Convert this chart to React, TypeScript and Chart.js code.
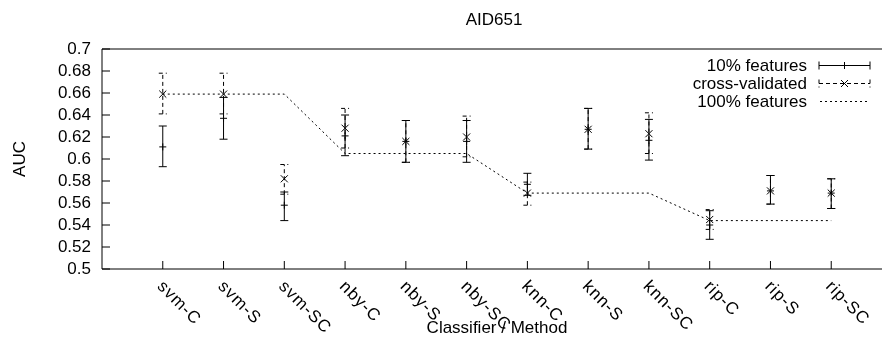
import React, { useEffect, useRef } from "react";
import { Chart, registerables } from "chart.js";

Chart.register(...registerables);

const categories = ["svm-C", "svm-S", "svm-SC", "nby-C", "nby-S", "nby-SC", "knn-C", "knn-S", "knn-SC", "rip-C", "rip-S", "rip-SC"];

const feat10 = [0.611, 0.637, 0.558, 0.621, 0.616, 0.616, 0.577, 0.627, 0.617, 0.54, 0.571, 0.569];
const feat10Low = [0.593, 0.618, 0.544, 0.603, 0.597, 0.597, 0.567, 0.609, 0.599, 0.527, 0.559, 0.555];
const feat10High = [0.63, 0.656, 0.57, 0.64, 0.635, 0.635, 0.587, 0.646, 0.636, 0.553, 0.585, 0.582];

const crossVal = [0.659, 0.659, 0.582, 0.628, 0.616, 0.62, 0.569, 0.627, 0.623, 0.545, 0.571, 0.569];
const crossValLow = [0.641, 0.641, 0.568, 0.61, 0.597, 0.602, 0.558, 0.609, 0.605, 0.536, 0.559, 0.555];
const crossValHigh = [0.678, 0.678, 0.595, 0.646, 0.635, 0.639, 0.579, 0.646, 0.642, 0.554, 0.585, 0.582];

const feat100 = [0.659, 0.659, 0.659, 0.605, 0.605, 0.605, 0.569, 0.569, 0.569, 0.544, 0.544, 0.544];

const yTickValues = [0.5, 0.52, 0.54, 0.56, 0.58, 0.6, 0.62, 0.64, 0.66, 0.68, 0.7];

const titleText = "AID651";
const xTitle = "Classifier / Method";
const yTitle = "AUC";
const legendLabels = ["10% features", "cross-validated", "100% features"];

const FONT = '17px "Liberation Sans", Arial, sans-serif';

function fmt(v: number) {
  return String(Number(v.toFixed(2)));
}

const decorPlugin = {
  id: "gnuplotDecor",
  beforeDatasetsDraw(chart: any) {
    const ctx = chart.ctx;
    const xs = chart.scales.x;
    const ys = chart.scales.y;
    ctx.save();
    ctx.strokeStyle = "#000";
    ctx.lineWidth = 1;
    const drawBar = (x: number, lo: number, hi: number, dash: number[]) => {
      const yl = ys.getPixelForValue(lo);
      const yh = ys.getPixelForValue(hi);
      ctx.setLineDash(dash);
      ctx.beginPath();
      ctx.moveTo(x, yl);
      ctx.lineTo(x, yh);
      ctx.stroke();
      ctx.beginPath();
      ctx.moveTo(x - 4, yl);
      ctx.lineTo(x + 4, yl);
      ctx.moveTo(x - 4, yh);
      ctx.lineTo(x + 4, yh);
      ctx.stroke();
    };
    categories.forEach((_, i) => {
      const x = xs.getPixelForValue(i + 1);
      drawBar(x, feat10Low[i], feat10High[i], []);
      drawBar(x, crossValLow[i], crossValHigh[i], [4, 3]);
    });
    ctx.restore();
  },
  afterDraw(chart: any) {
    const ctx = chart.ctx;
    const a = chart.chartArea;
    const xs = chart.scales.x;
    const ys = chart.scales.y;
    ctx.save();
    ctx.strokeStyle = "#000";
    ctx.fillStyle = "#000";
    ctx.lineWidth = 1;
    ctx.setLineDash([]);
    // frame
    ctx.beginPath();
    ctx.moveTo(a.right, a.top);
    ctx.lineTo(a.left, a.top);
    ctx.lineTo(a.left, a.bottom);
    ctx.lineTo(a.right, a.bottom);
    ctx.stroke();
    // y ticks (inward)
    ctx.beginPath();
    yTickValues.forEach((v) => {
      const y = ys.getPixelForValue(v);
      ctx.moveTo(a.left, y);
      ctx.lineTo(a.left + 8, y);
    });
    // x ticks (inward)
    categories.forEach((_, i) => {
      const x = xs.getPixelForValue(i + 1);
      ctx.moveTo(x, a.bottom);
      ctx.lineTo(x, a.bottom - 8);
    });
    ctx.stroke();

    ctx.font = FONT;
    // x labels rotated
    categories.forEach((c, i) => {
      const x = xs.getPixelForValue(i + 1);
      ctx.save();
      ctx.translate(x - 3, a.bottom + 15);
      ctx.rotate(Math.PI / 4);
      ctx.textAlign = "left";
      ctx.textBaseline = "middle";
      (ctx as any).letterSpacing = "1px";
      ctx.fillText(c, 0, 0);
      ctx.restore();
    });
    // title
    ctx.textAlign = "center";
    ctx.textBaseline = "middle";
    ctx.fillText(titleText, (a.left + a.right) / 2 - 3, 20);
    // x title
    ctx.fillText(xTitle, (a.left + a.right) / 2, 328);
    // y title
    ctx.save();
    ctx.translate(20, (a.top + a.bottom) / 2);
    ctx.rotate(-Math.PI / 2);
    ctx.fillText(yTitle, 0, 0);
    ctx.restore();

    // legend
    const textRight = 807;
    const sx0 = 819;
    const sx1 = 870;
    const sc = (sx0 + sx1) / 2;
    const rowY = [65.5, 83.5, 101.5];
    ctx.textAlign = "right";
    legendLabels.forEach((t, i) => ctx.fillText(t, textRight, rowY[i] + 1));
    // solid sample
    let y = rowY[0];
    ctx.setLineDash([]);
    ctx.beginPath();
    ctx.moveTo(sx0, y);
    ctx.lineTo(sx1, y);
    ctx.moveTo(sx0, y - 4);
    ctx.lineTo(sx0, y + 4);
    ctx.moveTo(sx1, y - 4);
    ctx.lineTo(sx1, y + 4);
    ctx.moveTo(sc - 3.5, y);
    ctx.lineTo(sc + 3.5, y);
    ctx.moveTo(sc, y - 3.5);
    ctx.lineTo(sc, y + 3.5);
    ctx.stroke();
    // dashed sample
    y = rowY[1];
    ctx.setLineDash([4, 3]);
    ctx.beginPath();
    ctx.moveTo(sx0, y);
    ctx.lineTo(sx1, y);
    ctx.moveTo(sx0, y - 4);
    ctx.lineTo(sx0, y + 4);
    ctx.moveTo(sx1, y - 4);
    ctx.lineTo(sx1, y + 4);
    ctx.stroke();
    ctx.setLineDash([]);
    ctx.beginPath();
    ctx.moveTo(sc - 3.5, y - 3.5);
    ctx.lineTo(sc + 3.5, y + 3.5);
    ctx.moveTo(sc - 3.5, y + 3.5);
    ctx.lineTo(sc + 3.5, y - 3.5);
    ctx.stroke();
    // dotted sample
    y = rowY[2];
    ctx.setLineDash([2, 3]);
    ctx.beginPath();
    ctx.moveTo(sx0 + 1, y);
    ctx.lineTo(sx1 - 3, y);
    ctx.stroke();
    ctx.restore();
  },
};

export default function App() {
  const ref = useRef<HTMLCanvasElement | null>(null);
  useEffect(() => {
    if (!ref.current) return;
    const chart = new Chart(ref.current, {
      type: "scatter",
      data: {
        datasets: [
          {
            label: legendLabels[2],
            type: "line",
            data: feat100.map((v, i) => ({ x: i + 1, y: v })),
            borderColor: "#000",
            borderWidth: 1,
            borderDash: [2, 3],
            pointRadius: 0,
            fill: false,
            tension: 0,
          },
          {
            label: legendLabels[0],
            data: feat10.map((v, i) => ({ x: i + 1, y: v })),
            pointStyle: "cross",
            pointRadius: 3.5,
            borderColor: "#000",
            backgroundColor: "#000",
            borderWidth: 1,
          },
          {
            label: legendLabels[1],
            data: crossVal.map((v, i) => ({ x: i + 1, y: v })),
            pointStyle: "crossRot",
            pointRadius: 5,
            borderColor: "#000",
            backgroundColor: "#000",
            borderWidth: 1,
          },
        ],
      },
      options: {
        animation: false,
        responsive: false,
        devicePixelRatio: 1,
        layout: { padding: { left: 0, top: 49, right: 8, bottom: 80 } },
        plugins: {
          legend: { display: false },
          title: { display: false },
          tooltip: { enabled: false },
        },
        scales: {
          x: {
            type: "linear",
            min: 0,
            max: 13,
            grid: { display: false },
            border: { display: false },
            ticks: { display: false },
            afterFit: (s: any) => {
              s.height = 0;
            },
          },
          y: {
            type: "linear",
            min: 0.5,
            max: 0.7,
            grid: { display: false, drawTicks: false },
            border: { display: false },
            afterBuildTicks: (s: any) => {
              s.ticks = yTickValues.map((v) => ({ value: v }));
            },
            ticks: {
              color: "#000",
              padding: 11,
              autoSkip: false,
              font: { family: '"Liberation Sans", Arial, sans-serif', size: 17 },
              callback: (v: any) => fmt(Number(v)),
            },
            afterFit: (s: any) => {
              s.width = 102;
            },
          },
        },
      },
      plugins: [decorPlugin],
    });
    return () => chart.destroy();
  }, []);
  return (
    <div style={{ position: "absolute", left: 0, top: 0, width: 882, height: 349, overflow: "hidden", background: "#fff" }}>
      <canvas ref={ref} width={900} height={349} style={{ width: 900, height: 349, display: "block" }} />
    </div>
  );
}
